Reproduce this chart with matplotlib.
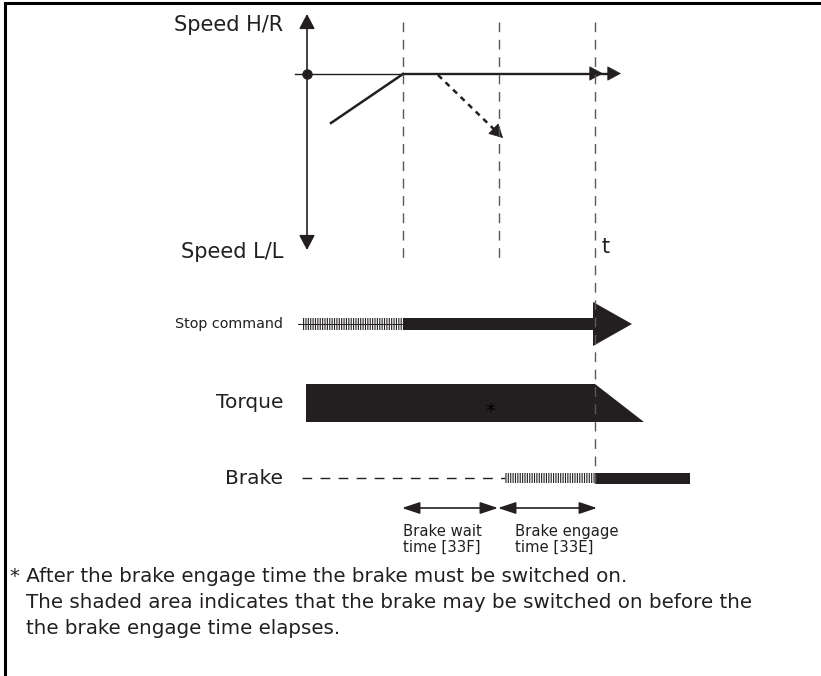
import numpy as np
import matplotlib
matplotlib.use("Agg")
import matplotlib.pyplot as plt
from matplotlib.patches import Rectangle, Polygon

# --- diagram values (pixel units, y grows downwards) ---
ink = "#231f20"
grid_grey = "#58595b"

row_labels = ["Speed H/R", "Speed L/L", "Stop command", "Torque", "Brake"]
row_y = [25, 252, 324, 403, 478]
label_right = 283

t_origin = 307
event_times = [403, 499, 595]          # stop, brake wait end, brake engage end
event_bottoms = [264, 264, 489]
speed_zero = 73.5
speed_top, speed_bottom = 14, 250
axis_start = 295
axis_tips = [603, 621]

ramp_x = [331, 403]
ramp_y = [123, 74]
decel_x = [438, 503]
decel_y = [75, 138]

stop_hatch = [303, 403]
stop_solid = [403, 595]
stop_head = [593, 632]
stop_half = 6
stop_head_half = 22

torque_x = [306, 595, 644]
torque_top, torque_bot = 384, 422

brake_dash = [302, 505]
brake_hatch = [505, 595]
brake_solid = [595, 690]
brake_half = 5

dim_y = 508
dim_x = [402, 498, 597]
dim_labels = ["Brake wait\ntime [33F]", "Brake engage\ntime [33E]"]
dim_label_x = [403, 515]

footnote = ["* After the brake engage time the brake must be switched on.",
            "The shaded area indicates that the brake may be switched on before the",
            "the brake engage time elapses."]
footnote_x = [10, 26, 26]
footnote_y = [576, 602, 628]

plt.rcParams["hatch.linewidth"] = 0.8
plt.rcParams["font.family"] = ["DejaVu Sans"]

fig = plt.figure(figsize=(8.21, 6.76), dpi=100)
ax = fig.add_axes([0, 0, 1, 1])
ax.set_xlim(0, 821)
ax.set_ylim(676, 0)
ax.axis("off")

# frame (left and top only are visible)
ax.plot([5, 5], [700, 3], color="black", lw=2.2, solid_capstyle="projecting")
ax.plot([5, 830], [3, 3], color="black", lw=2.2, solid_capstyle="projecting")

# row labels
sizes = [15, 15, 10.3, 14.5, 14.5]
for lab, y, s in zip(row_labels, row_y, sizes):
    ax.text(label_right, y, lab, ha="right", va="center", fontsize=s, color=ink)

# dashed event lines
for x, yb in zip(event_times, event_bottoms):
    ax.plot([x, x], [22, yb], color=grid_grey, lw=1.0, dashes=(7, 5.5), zorder=5)
ax.text(event_times[2] + 7, 247, "t", ha="left", va="center", fontsize=15, color=ink)

head = "-|>,head_length=0.45,head_width=0.24"
# speed axis
ax.annotate("", xy=(t_origin, speed_top), xytext=(t_origin, speed_zero),
            arrowprops=dict(arrowstyle=head, mutation_scale=20, lw=1.2, color=ink,
                            shrinkA=0, shrinkB=0))
ax.annotate("", xy=(t_origin, speed_bottom), xytext=(t_origin, speed_zero),
            arrowprops=dict(arrowstyle=head, mutation_scale=20, lw=1.2, color=ink,
                            shrinkA=0, shrinkB=0))
ax.plot([axis_start, event_times[0]], [speed_zero, speed_zero], color=ink, lw=1.0)
ax.plot([event_times[0], axis_tips[1] - 10], [speed_zero, speed_zero], color=ink, lw=1.7)
for tip in axis_tips:
    ax.annotate("", xy=(tip, speed_zero), xytext=(tip - 16, speed_zero),
                arrowprops=dict(arrowstyle=head, mutation_scale=20, lw=0.5, color=ink,
                                shrinkA=0, shrinkB=0))
ax.plot([t_origin], [speed_zero], "o", color=ink, ms=6.5)

# speed ramp and decel arrow
ax.plot(ramp_x, ramp_y, color=ink, lw=1.8)
d = np.array([decel_x[1] - decel_x[0], decel_y[1] - decel_y[0]])
d = d / np.hypot(*d)
ax.plot([decel_x[0], decel_x[1] - d[0] * 8], [decel_y[0], decel_y[1] - d[1] * 8],
        color=ink, lw=1.8, dashes=(2.2, 2.0))
ax.annotate("", xy=(decel_x[1], decel_y[1]),
            xytext=(decel_x[1] - d[0] * 14, decel_y[1] - d[1] * 14),
            arrowprops=dict(arrowstyle=head, mutation_scale=20, lw=0.5, color=ink,
                            shrinkA=0, shrinkB=0))

# stop command
ys = row_y[2]
ax.plot([298, stop_hatch[1]], [ys, ys], color=ink, lw=0.7)
ax.add_patch(Rectangle((stop_hatch[0], ys - stop_half), stop_hatch[1] - stop_hatch[0],
                       2 * stop_half, facecolor="none", edgecolor=ink, lw=0,
                       hatch="|" * 7))
ax.add_patch(Rectangle((stop_solid[0], ys - stop_half), stop_solid[1] - stop_solid[0],
                       2 * stop_half, facecolor=ink, edgecolor="none"))
ax.add_patch(Polygon([(stop_head[0], ys - stop_head_half), (stop_head[1], ys),
                      (stop_head[0], ys + stop_head_half)], closed=True,
                     facecolor=ink, edgecolor="none"))

# torque
ax.add_patch(Polygon([(torque_x[0], torque_top), (torque_x[1], torque_top),
                      (torque_x[2], torque_bot), (torque_x[0], torque_bot)],
                     closed=True, facecolor=ink, edgecolor="none"))
ax.text(490, 412, "*", ha="center", va="center", fontsize=14, color="black", zorder=6)

# brake
yb = row_y[4]
ax.plot(brake_dash, [yb, yb], color=ink, lw=1.0, dashes=(7, 6))
ax.add_patch(Rectangle((brake_hatch[0], yb - brake_half), brake_hatch[1] - brake_hatch[0],
                       2 * brake_half, facecolor="none", edgecolor=ink, lw=0,
                       hatch="|" * 7))
ax.add_patch(Rectangle((brake_solid[0], yb - brake_half), brake_solid[1] - brake_solid[0],
                       2 * brake_half + 1, facecolor=ink, edgecolor="none"))

# timing dimensions
dim = "<|-|>,head_length=0.6,head_width=0.2"
for x0, x1 in zip(dim_x[:-1], dim_x[1:]):
    ax.annotate("", xy=(x1, dim_y), xytext=(x0, dim_y),
                arrowprops=dict(arrowstyle=dim, mutation_scale=18, lw=1.2, color=ink,
                                shrinkA=0, shrinkB=0))
for x, lab in zip(dim_label_x, dim_labels):
    ax.text(x, 539, lab, ha="left", va="center", fontsize=10.7, color=ink,
            linespacing=1.05)

# footnote
for x, y, line in zip(footnote_x, footnote_y, footnote):
    ax.text(x, y, line, ha="left", va="center", fontsize=14.3, color=ink)

fig.savefig("out.png", dpi=100)
